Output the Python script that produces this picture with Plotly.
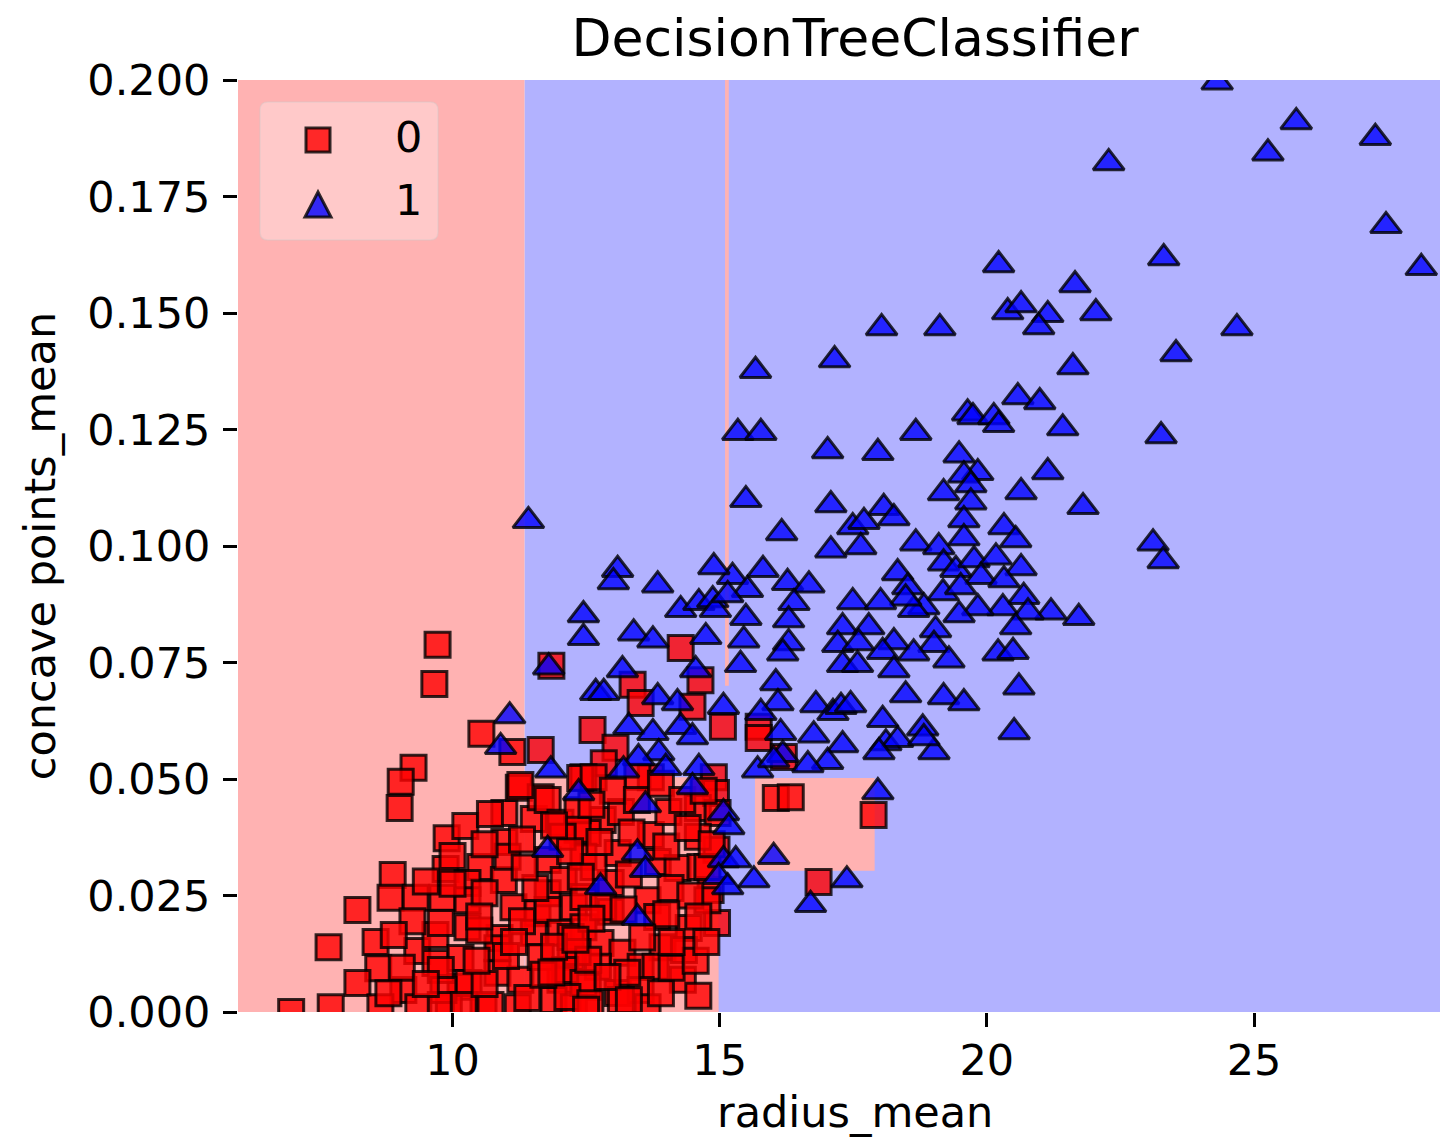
import plotly.graph_objects as go

# ---------------- data ----------------
# class 1 (malignant) : radius_mean / concave points_mean
x1 = [24.31, 25.79, 25.26, 27.27, 22.28, 27.47, 28.13, 23.31, 20.22, 21.65,
      22.04, 20.39, 20.64, 21.14, 20.97, 18.03, 19.12, 24.68, 23.54, 17.15,
      15.67, 21.61, 20.58, 20.99, 19.64, 19.74, 20.13, 20.22, 21.42, 18.67,
      15.34, 15.77, 23.26, 17.02, 17.96, 19.48, 19.83, 19.57, 21.14, 19.19,
      19.70, 20.64, 15.49, 21.80, 11.42, 17.08, 18.07, 18.26, 17.49, 17.70,
      19.70, 19.57, 19.57, 16.16, 17.64, 17.08, 18.67, 19.10, 19.19, 19.42,
      19.76, 20.17, 20.32, 20.54, 20.64, 19.89, 20.32, 18.33, 23.11, 23.30,
      15.81, 16.27, 16.67, 18.52, 19.18, 19.51, 20.69, 21.20, 21.72, 20.30,
      20.77, 20.54, 19.83, 19.48, 18.82, 18.63, 18.48, 17.49, 18.01, 16.39,
      16.29, 17.30, 17.79, 19.04, 16.29, 16.18, 17.21, 17.60, 18.26, 19.01,
      18.63, 18.05, 17.30, 17.58, 19.29, 20.21, 20.49, 18.26, 20.60, 16.05,
      18.48, 19.19, 19.57, 16.80, 17.12, 17.27, 17.45, 16.09, 18.05, 18.80,
      20.51, 16.76, 16.14, 17.30, 18.11, 18.33, 17.98, 19.01, 18.82, 17.02,
      16.65, 16.18, 17.96,
      13.09, 13.01, 13.84, 12.45, 12.45, 13.39, 13.75, 14.27, 14.61, 14.87,
      14.92, 15.24, 14.89, 15.52, 15.49, 14.74, 15.45, 15.39, 11.80, 14.55,
      13.18, 12.68, 12.83, 13.84, 14.21, 15.07, 15.77, 13.30, 14.27, 13.75,
      14.49, 13.86, 13.48, 13.20, 13.99, 14.61, 11.84, 15.71, 16.01, 12.36,
      14.49,
      13.61, 15.07, 15.17, 11.78, 13.46, 13.61, 15.07, 15.30, 14.98, 15.64,
      16.01, 15.15, 12.77, 13.46, 17.38, 16.70,
      11.07, 10.90, 15.15]
y1 = [0.1995, 0.191, 0.1843, 0.1876, 0.1822, 0.1687, 0.1597, 0.1618, 0.1603, 0.156,
      0.150, 0.1502, 0.1517, 0.1496, 0.147, 0.1468, 0.1468, 0.1468, 0.1412, 0.1399,
      0.1376, 0.1384, 0.132, 0.1309, 0.1285, 0.1277, 0.1277, 0.126, 0.1253, 0.1243,
      0.1243, 0.1243, 0.1236, 0.1204, 0.12, 0.1195, 0.1157, 0.1152, 0.1159, 0.1114,
      0.1131, 0.1116, 0.1099, 0.1084, 0.1054, 0.1088, 0.1082, 0.106, 0.1041, 0.1052,
      0.1094, 0.1056, 0.1017, 0.1028, 0.0998, 0.0991, 0.1006, 0.0998, 0.0963, 0.0949,
      0.097, 0.0976, 0.1041, 0.1013, 0.0953, 0.0934, 0.0927, 0.0942, 0.1006, 0.0968,
      0.0949, 0.0921, 0.0916, 0.0912, 0.0899, 0.0912, 0.0891, 0.0858, 0.0846, 0.0867,
      0.0858, 0.0826, 0.0867, 0.0852, 0.0869, 0.0863, 0.0888, 0.088, 0.088, 0.0878,
      0.0841, 0.0826, 0.0826, 0.082, 0.0792, 0.077, 0.0788, 0.0792, 0.0794, 0.0788,
      0.077, 0.0773, 0.0745, 0.0745, 0.0755, 0.077, 0.0773, 0.0734, 0.0697, 0.0706,
      0.068, 0.0676, 0.0663, 0.0659, 0.0642, 0.0655, 0.0659, 0.0663, 0.0627, 0.0609,
      0.0601, 0.0594, 0.0599, 0.0573, 0.0577, 0.0584, 0.0558, 0.0558, 0.0588, 0.0537,
      0.053, 0.0552, 0.0472,
      0.0949, 0.0923, 0.0916, 0.0852, 0.0803, 0.0813, 0.0798, 0.0863, 0.0878, 0.0884,
      0.0863, 0.0934, 0.0955, 0.0906, 0.0846, 0.0805, 0.0798, 0.0745, 0.074, 0.0734,
      0.0734, 0.0685, 0.0685, 0.0676, 0.0663, 0.0655, 0.0642, 0.0612, 0.0612, 0.0599,
      0.059, 0.0556, 0.0545, 0.0519, 0.0524, 0.0524, 0.0519, 0.0519, 0.0541, 0.047,
      0.0483,
      0.0444, 0.0427, 0.0397, 0.0348, 0.0341, 0.0305, 0.0326, 0.0326, 0.029, 0.0283,
      0.0333, 0.0268, 0.0268, 0.0202, 0.0283, 0.023,
      0.0635, 0.0569, 0.0895]

# class 0 (benign)
x0 = [9.72, 9.66, 10.54, 9.27, 9.03, 9.01, 11.85, 14.27, 12.62, 11.12,
      11.65, 15.06, 15.73, 15.73, 16.05, 16.33, 17.88, 16.85, 13.37, 14.64,
      13.52, 14.49, 13.05, 12.83, 14.89, 12.45, 13.71, 16.20, 14.93, 14.94,
      6.98,
      9.89, 10.24, 10.97, 11.52, 11.24, 10.97, 8.88, 9.87, 10.52, 10.28,
      10.96, 11.03, 8.22, 8.84, 9.31, 9.81, 10.28, 11.14, 11.59, 7.68,
      8.56, 9.34, 9.68, 10.28, 10.88, 11.52, 8.61, 8.22, 9.08, 9.68,
      10.15, 10.84, 11.27, 10.15, 7.72, 8.65, 9.36, 9.93, 10.58, 11.22,
      11.78, 11.65,
      11.78, 12.02, 12.81, 13.15, 12.53, 13.71, 14.04, 14.59, 14.96, 14.59,
      11.78, 12.08, 12.45, 13.09, 13.84, 14.21, 14.64, 14.83, 12.96, 13.65,
      14.08, 11.78, 12.27, 12.96, 14.42, 14.95, 12.02, 12.45, 12.77, 13.18,
      13.93, 14.33, 12.21, 12.72, 13.52, 13.80, 14.31, 12.02, 12.53, 13.09,
      13.52, 11.89, 12.27, 13.15, 13.65,
      11.27, 11.55, 9.78, 12.21, 10.84, 11.65, 12.34, 9.78, 12.11, 10.30,
      9.83, 12.45, 9.78, 10.21, 10.71, 12.15, 12.34, 12.34, 12.39, 12.06,
      12.64, 14.77, 12.64, 14.77, 12.45, 12.82, 13.83, 12.54, 13.27, 12.58,
      13.46,
      10.60, 11.00, 11.40, 11.70, 10.50, 11.90, 12.90, 13.30, 13.90, 14.10,
      14.60, 14.55, 12.50, 13.00, 13.45, 13.90, 14.30, 14.70, 12.60, 12.20,
      12.75, 13.35, 14.00, 14.40, 14.85, 12.40, 13.30, 14.45, 12.60, 13.20,
      14.00, 14.60, 12.30, 13.55, 14.10, 14.75, 10.00, 10.60, 11.30, 10.70,
      11.90, 9.50, 10.00, 10.60, 11.35, 9.25, 10.50, 11.30, 8.90, 9.05,
      8.80, 9.50, 10.45, 11.15, 11.85]
y0 = [0.0788, 0.0704, 0.0597, 0.0524, 0.0494, 0.0438, 0.0743, 0.0781, 0.0605, 0.0558,
      0.0562, 0.0612, 0.0612, 0.0588, 0.0459, 0.0461, 0.0423, 0.0279, 0.0702, 0.0712,
      0.0663, 0.0655, 0.0567, 0.0534, 0.0504, 0.0504, 0.0504, 0.0547, 0.047, 0.0348,
      0.0,
      0.0373, 0.0399, 0.0427, 0.0414, 0.0481, 0.0365, 0.0294, 0.0307, 0.0311, 0.0277,
      0.0283, 0.0333, 0.0219, 0.0245, 0.0245, 0.0245, 0.024, 0.0225, 0.0212, 0.0139,
      0.015, 0.0131, 0.0165, 0.0182, 0.0159, 0.017, 0.0094, 0.0062, 0.0047, 0.0105,
      0.0116, 0.0084, 0.0069, 0.0054, 0.001, 0.001, 0.001, 0.001, 0.001, 0.001,
      0.0255, 0.0461,
      0.0455, 0.0406, 0.0412, 0.0429, 0.0384, 0.038, 0.0429, 0.0438, 0.0427, 0.0376,
      0.0326, 0.0283, 0.0333, 0.0341, 0.0322, 0.0309, 0.0311, 0.0262, 0.0277, 0.024,
      0.0266, 0.0219, 0.0225, 0.0215, 0.018, 0.0191, 0.017, 0.0182, 0.0148, 0.0127,
      0.0139, 0.0133, 0.0118, 0.0097, 0.0097, 0.0097, 0.0069, 0.0069, 0.0054, 0.0041,
      0.0047, 0.0026, 0.001, 0.0026, 0.001,
      0.0487, 0.0266, 0.0191, 0.0161, 0.0137, 0.0118, 0.0129, 0.009, 0.009, 0.0062,
      0.0047, 0.0062, 0.0015, 0.0015, 0.0015, 0.0032, 0.0433, 0.0391, 0.0502, 0.0376,
      0.0504, 0.0311, 0.0311, 0.024, 0.0247, 0.0225, 0.0204, 0.0112, 0.0084, 0.0019,
      0.0505,
      0.006, 0.012, 0.003, 0.008, 0.0175, 0.014, 0.0075, 0.0025, 0.004, 0.0095,
      0.0035, 0.011, 0.0005, 0.0475, 0.0455, 0.049, 0.0455, 0.0475, 0.0445, 0.0345,
      0.0365, 0.0385, 0.0355, 0.0395, 0.036, 0.029, 0.0295, 0.025, 0.020, 0.022,
      0.021, 0.0205, 0.0155, 0.016, 0.015, 0.015, 0.0335, 0.036, 0.037, 0.0425,
      0.040, 0.028, 0.0275, 0.0255, 0.031, 0.0195, 0.0205, 0.0195, 0.0165, 0.0095,
      0.004, 0.006, 0.011, 0.015, 0.0085]

# decision regions of the fitted tree (class per rectangle)
region_x0 = [5.98, 11.35, 11.35, 15.10, 15.66]
region_x1 = [11.35, 29.11, 14.98, 15.17, 17.90]
region_y0 = [-1.0, -1.0, -1.0, 0.070, 0.0303]
region_y1 = [1.2, 1.2, 0.0504, 1.2, 0.0502]
region_cls = [0, 1, 0, 0, 0]

class_labels = ["0", "1"]
x_ticks = [10, 15, 20, 25]
y_ticks = [0.0, 0.025, 0.05, 0.075, 0.1, 0.125, 0.15, 0.175, 0.2]

# ---------------- figure ----------------
W, H = 1456, 1139
OFF = 8                      # page body margin of the html page
ML, MT = 238 - OFF, 80 - OFF
PW, PH = 1218, 932
MR = W - ML - PW
MB = H - MT - PH
FONT = "DejaVu Sans"

region_fill = {0: "rgb(255,178,178)", 1: "rgb(178,178,255)"}

def px(xp):  # page pixel -> paper x (legend decoration only)
    return (xp - 238) / PW

def py(yp):  # page pixel -> paper y
    return (1012 - yp) / PH

shapes = []
for a, b, c, d, k in zip(region_x0, region_x1, region_y0, region_y1, region_cls):
    shapes.append(dict(type="rect", xref="x", yref="y", x0=a, x1=b, y0=c, y1=d,
                       fillcolor=region_fill[k], line=dict(width=0), layer="below"))

fig = go.Figure()
fig.add_trace(go.Scatter(
    x=x0, y=y0, mode="markers", name=class_labels[0], showlegend=False,
    marker=dict(symbol="square", size=25, color="rgba(255,0,0,0.8)",
                line=dict(color="rgba(0,0,0,0.8)", width=3))))
fig.add_trace(go.Scatter(
    x=x1, y=y1, mode="markers", name=class_labels[1], showlegend=False,
    marker=dict(symbol="triangle-up", size=27, color="rgba(0,0,255,0.8)",
                line=dict(color="rgba(0,0,0,0.8)", width=3))))

# legend box (rounded) drawn as decoration
lx0, lx1, ly0, ly1 = px(260), px(438), py(240), py(102)
rx, ry = 8 / PW, 8 / PH
path = (f"M {lx0+rx},{ly1} L {lx1-rx},{ly1} Q {lx1},{ly1} {lx1},{ly1-ry} "
        f"L {lx1},{ly0+ry} Q {lx1},{ly0} {lx1-rx},{ly0} L {lx0+rx},{ly0} "
        f"Q {lx0},{ly0} {lx0},{ly0+ry} L {lx0},{ly1-ry} Q {lx0},{ly1} {lx0+rx},{ly1} Z")
shapes.append(dict(type="path", xref="paper", yref="paper", path=path,
                   fillcolor="rgba(255,255,255,0.3)",
                   line=dict(color="rgba(204,204,204,0.35)", width=1.5), layer="above"))
shapes.append(dict(type="rect", xref="paper", yref="paper",
                   x0=px(306), x1=px(330), y0=py(152), y1=py(128),
                   fillcolor="rgba(255,0,0,0.8)",
                   line=dict(color="rgba(0,0,0,0.8)", width=3), layer="above"))
tri = f"M {px(305)},{py(217)} L {px(331)},{py(217)} L {px(318)},{py(192)} Z"
shapes.append(dict(type="path", xref="paper", yref="paper", path=tri,
                   fillcolor="rgba(0,0,255,0.8)",
                   line=dict(color="rgba(0,0,0,0.8)", width=3), layer="above"))

annotations = [
    dict(text=class_labels[0], xref="paper", yref="paper", x=px(408), y=py(137),
         xanchor="center", yanchor="middle", showarrow=False,
         font=dict(family=FONT, size=43, color="black")),
    dict(text=class_labels[1], xref="paper", yref="paper", x=px(408), y=py(200),
         xanchor="center", yanchor="middle", showarrow=False,
         font=dict(family=FONT, size=43, color="black")),
    dict(text="radius_mean", xref="paper", yref="paper", x=px(855), y=py(1112),
         xanchor="center", yanchor="middle", showarrow=False,
         font=dict(family=FONT, size=43, color="black")),
]

fig.update_layout(
    width=W, height=H,
    margin=dict(l=ML, r=MR, t=MT, b=MB, pad=0),
    paper_bgcolor="white", plot_bgcolor="white",
    title=dict(text="DecisionTreeClassifier", x=(855 - OFF) / W, xanchor="center",
               xref="container", yref="container", y=1 - (38 - OFF) / H, yanchor="middle",
               font=dict(family=FONT, size=52, color="black")),
    shapes=shapes, annotations=annotations,
    font=dict(family=FONT, color="black"),
)
fig.update_xaxes(range=[5.985, 28.78], tickvals=x_ticks, ticktext=[str(t) for t in x_ticks],
                 ticks="outside", ticklen=14, tickwidth=3, tickcolor="black",
                 tickfont=dict(family=FONT, size=43, color="black"),
                 showgrid=False, zeroline=False, showline=False, ticklabelstandoff=-4)
fig.update_yaxes(range=[0, 0.2], tickvals=y_ticks, ticktext=[f"{t:.3f}" for t in y_ticks],
                 ticks="outside", ticklen=14, tickwidth=3, tickcolor="black",
                 tickfont=dict(family=FONT, size=43, color="black"),
                 showgrid=False, zeroline=False, showline=False, ticklabelstandoff=4,
                 title=dict(text="concave points_mean", standoff=18,
                            font=dict(family=FONT, size=43, color="black")))

fig.write_html("out.html")
